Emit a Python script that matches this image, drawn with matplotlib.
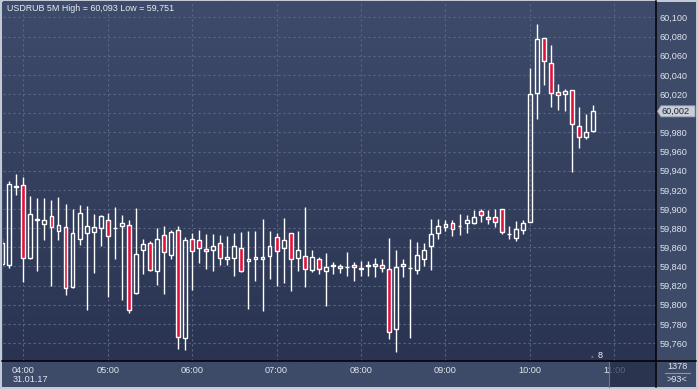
import numpy as np
import pandas as pd
import matplotlib
matplotlib.use("Agg")
import matplotlib.pyplot as plt
from matplotlib.colors import LinearSegmentedColormap
from matplotlib.patches import Rectangle, Polygon
from matplotlib.lines import Line2D
from matplotlib.transforms import IdentityTransform

plt.rcParams['font.family'] = ['Liberation Sans', 'DejaVu Sans']

# USDRUB 5M candles, 31.01.17 03:45 .. 10:45
times = pd.date_range('2017-01-31 03:45', periods=85, freq='5min')
opens = [59.864, 59.842, 59.9235, 59.925, 59.849, 59.889, 59.884, 59.893, 59.877, 59.881,
         59.819, 59.869, 59.875, 59.876, 59.880, 59.889, 59.880, 59.882, 59.883, 59.812,
         59.857, 59.865, 59.835, 59.873, 59.852, 59.878, 59.765, 59.869, 59.868, 59.858,
         59.857, 59.864, 59.848, 59.849, 59.859, 59.8455, 59.848, 59.848, 59.851, 59.871,
         59.859, 59.875, 59.849, 59.851, 59.836, 59.848, 59.835, 59.840, 59.840, 59.839,
         59.842, 59.8375, 59.840, 59.843, 59.842, 59.837, 59.775, 59.840, 59.838, 59.836,
         59.848, 59.861, 59.875, 59.881, 59.885, 59.882, 59.885, 59.885, 59.898, 59.892,
         59.892, 59.900, 59.874, 59.870, 59.878, 59.886, 60.021, 60.079, 60.052, 60.022,
         60.020, 60.024, 59.987, 59.975, 59.981]
highs = [59.870, 59.929, 59.937, 59.933, 59.914, 59.911, 59.911, 59.909, 59.913, 59.905,
         59.900, 59.904, 59.903, 59.895, 59.894, 59.896, 59.902, 59.894, 59.889, 59.901,
         59.869, 59.867, 59.880, 59.882, 59.878, 59.882, 59.871, 59.875, 59.878, 59.874,
         59.874, 59.873, 59.872, 59.875, 59.876, 59.877, 59.877, 59.890, 59.877, 59.875,
         59.891, 59.875, 59.877, 59.902, 59.857, 59.850, 59.854, 59.8445, 59.843, 59.855,
         59.8445, 59.846, 59.8455, 59.849, 59.848, 59.870, 59.857, 59.848, 59.869, 59.866,
         59.864, 59.890, 59.890, 59.888, 59.889, 59.895, 59.894, 59.899, 59.900, 59.899,
         59.900, 59.900, 59.882, 59.887, 59.889, 60.047, 60.093, 60.079, 60.071, 60.031,
         60.025, 60.024, 60.007, 59.999, 60.009]
lows = [59.841, 59.838, 59.915, 59.824, 59.848, 59.835, 59.868, 59.820, 59.868, 59.810,
        59.818, 59.862, 59.795, 59.833, 59.861, 59.808, 59.848, 59.805, 59.791, 59.811,
        59.832, 59.835, 59.821, 59.811, 59.848, 59.754, 59.753, 59.815, 59.844, 59.837,
        59.835, 59.842, 59.842, 59.830, 59.834, 59.796, 59.825, 59.794, 59.827, 59.820,
        59.823, 59.814, 59.835, 59.819, 59.834, 59.832, 59.799, 59.832, 59.833, 59.830,
        59.825, 59.830, 59.830, 59.829, 59.834, 59.764, 59.751, 59.829, 59.765, 59.832,
        59.840, 59.836, 59.869, 59.877, 59.872, 59.873, 59.875, 59.884, 59.886, 59.884,
        59.881, 59.874, 59.869, 59.867, 59.874, 59.886, 59.994, 60.030, 60.007, 60.003,
        60.002, 59.939, 59.964, 59.973, 59.980]
closes = [59.843, 59.926, 59.9235, 59.849, 59.895, 59.889, 59.888, 59.881, 59.883, 59.817,
          59.875, 59.896, 59.882, 59.881, 59.893, 59.872, 59.880, 59.885, 59.795, 59.853,
          59.863, 59.836, 59.869, 59.855, 59.876, 59.766, 59.868, 59.856, 59.859, 59.856,
          59.861, 59.849, 59.850, 59.861, 59.835, 59.848, 59.850, 59.850, 59.861, 59.856,
          59.868, 59.848, 59.857, 59.837, 59.850, 59.837, 59.839, 59.842, 59.838, 59.839,
          59.839, 59.8375, 59.842, 59.841, 59.838, 59.772, 59.839, 59.843, 59.838, 59.852,
          59.857, 59.874, 59.882, 59.884, 59.879, 59.882, 59.888, 59.892, 59.8935, 59.890,
          59.886, 59.876, 59.874, 59.879, 59.885, 60.020, 60.078, 60.055, 60.021, 60.019,
          60.023, 59.9885, 59.975, 59.980, 60.002]

price_ticks = np.round(np.arange(59.76, 60.1001, 0.02), 3)
last_price = 60.002
title = "USDRUB 5M High = 60,093 Low = 59,751"

W, H = 698, 389
fig = plt.figure(figsize=(W / 100, H / 100), dpi=100)
fig.patch.set_facecolor('#c3cad5')

def fx(x):
    return x / W

def fy(y):
    return 1 - y / H

# inner panel colour (axis areas)
fig.add_artist(Rectangle((fx(2), fy(387)), fx(694), 385 / H, transform=fig.transFigure,
                         facecolor='#3e4b68', edgecolor='none', zorder=-5))

ax = fig.add_axes([fx(3), fy(360.7), fx(652.7), 359.7 / H])

# gradient background
cmap = LinearSegmentedColormap.from_list('bg', ['#3e4b6a', '#2a3452'])
ax.imshow(np.linspace(0, 1, 256).reshape(-1, 1), cmap=cmap, aspect='auto',
          extent=[0, 1, 0, 1], transform=ax.transAxes, zorder=0)

x = np.arange(len(times))
o = np.array(opens); h = np.array(highs); l = np.array(lows); c = np.array(closes)
top = np.maximum(o, c)
bot = np.minimum(o, c)
bear = c < o

ax.vlines(x, top, h, color='white', lw=1, zorder=3)
ax.vlines(x, l, bot, color='white', lw=1, zorder=3)
body_h = np.maximum(top - bot, 0.0004)
ax.bar(x[bear], body_h[bear], bottom=bot[bear], width=0.55, color='#e0123c',
       edgecolor='white', linewidth=1, zorder=4)
ax.bar(x[~bear], body_h[~bear], bottom=bot[~bear], width=0.55, color='none',
       edgecolor='white', linewidth=1, zorder=4)

# hour ticks
hour_idx = [i for i, t in enumerate(times) if t.minute == 0]
hour_idx.append(hour_idx[-1] + 12)
hour_lab = [t.strftime('%H:%M') for t in times if t.minute == 0] + ['11:00']

ax.set_xlim(0.115, 92.88)
ax.set_ylim(59.7416, 60.1172)
ax.set_xticks(hour_idx)
ax.set_xticklabels(hour_lab)
ax.yaxis.tick_right()
ax.set_yticks(price_ticks)
# the 60,000 label sits under the current-price tag
ax.set_yticklabels(['' if abs(v - 60.0) < 1e-9 else f"{v:.3f}".replace('.', ',')
                    for v in price_ticks])
ax.tick_params(axis='both', length=0, labelsize=6.6, colors='#dfe5ee')
ax.tick_params(axis='y', pad=3)
ax.tick_params(axis='x', pad=4)
ax.grid(True, color='#5a6783', lw=0.8, linestyle=(0, (2, 2.5)), zorder=1)
ax.set_axisbelow(True)
for s in ax.spines.values():
    s.set_visible(False)

ax.text(4 / 652.7, 1 - 7.5 / 359.7, title, transform=ax.transAxes, fontsize=6.4,
        color='#e8ecf3', va='center', ha='left', zorder=6)

# separator lines
fig.add_artist(Line2D([fx(655.7), fx(655.7)], [fy(1), fy(387)], color='black', lw=1.1,
                      transform=fig.transFigure, zorder=3))
fig.add_artist(Line2D([fx(2), fx(696)], [fy(360.7), fy(360.7)], color='black', lw=1.1,
                      transform=fig.transFigure, zorder=3))

# date label
fig.text(fx(13), fy(380), '31.01.17', fontsize=6.6, color='#dfe5ee', va='center', ha='left')

# dark scroll overlay in the time axis
fig.add_artist(Rectangle((fx(609.5), fy(387)), fx(45.7), 25.8 / H, transform=fig.transFigure,
                         facecolor='#222b44', edgecolor='none', alpha=0.7, zorder=2))
fig.add_artist(Line2D([fx(608.5), fx(608.5)], [fy(361.5), fy(387)], color='#6b7589', lw=0.8,
                      transform=fig.transFigure, zorder=2))

# marker "8"
fig.text(fx(591.5), fy(356), '\u25B2', fontsize=3.5, color='#5e6a84', va='center', ha='center')
fig.text(fx(600.5), fy(355.5), '8', fontsize=6.6, color='#eef2f7', va='center', ha='center')

# bottom-right box
fig.text(fx(677), fy(366.5), '1378', fontsize=6.6, color='#dfe5ee', va='center', ha='center')
fig.add_artist(Line2D([fx(665), fx(690)], [fy(373.3), fy(373.3)], color='#8b95aa', lw=0.8,
                      transform=fig.transFigure, zorder=3))
fig.text(fx(677), fy(380), '>93<', fontsize=6.6, color='#dfe5ee', va='center', ha='center')

# current price tag
fig.canvas.draw()
py = ax.transData.transform((0, last_price))[1]
tag = Polygon([(657.5, py), (661, py + 5.5), (695, py + 5.5), (695, py - 5.5), (661, py - 5.5)],
              closed=True, transform=IdentityTransform(), facecolor='#c9ced8',
              edgecolor='#9aa3b5', lw=0.6, zorder=4)
fig.add_artist(tag)
fig.text(fx(661.5), py / H, '60,002', fontsize=6.6, color='#1c2333', va='center', ha='left',
         zorder=5)

fig.savefig('out.png', dpi=100, facecolor=fig.get_facecolor())
